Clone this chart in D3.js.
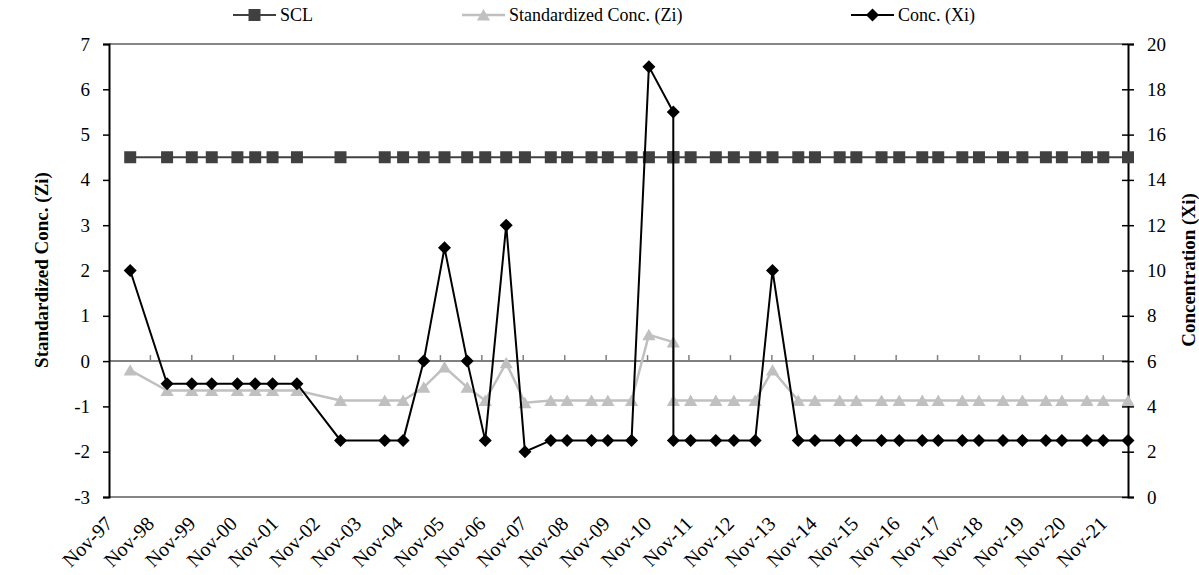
<!doctype html>
<html>
<head>
<meta charset="UTF-8">
<script src="https://d3js.org/d3.v7.min.js"></script>
<style>
body { margin: 0; background: #fff; }
</style>
</head>
<body>
<script>
// sampling dates
var dates = ["1998-05-07", "1999-03-28", "1999-11-01", "2000-04-25", "2000-12-07", "2001-05-13",
  "2001-10-13", "2002-05-16", "2003-06-04", "2004-06-28", "2004-12-07", "2005-06-07",
  "2005-12-07", "2006-06-25", "2006-12-01", "2007-06-04", "2007-11-16", "2008-07-01",
  "2008-11-22", "2009-06-25", "2009-11-16", "2010-06-13", "2010-11-13", "2011-06-16",
  "2011-06-17", "2011-11-16", "2012-06-25", "2012-12-01", "2013-06-07", "2013-11-07",
  "2014-06-22", "2014-11-16", "2015-06-22", "2015-11-16", "2016-06-25", "2016-11-28",
  "2017-06-19", "2017-11-07", "2018-06-07", "2018-11-01", "2019-06-01", "2019-11-19",
  "2020-06-13", "2020-11-01", "2021-06-10", "2021-11-01", "2022-06-07"];

// concentration Xi (right axis)
var conc = [10, 5, 5, 5, 5, 5, 5, 5, 2.5, 2.5, 2.5, 6,
  11, 6, 2.5, 12, 2, 2.5, 2.5, 2.5, 2.5, 2.5, 19, 17,
  2.5, 2.5, 2.5, 2.5, 2.5, 10, 2.5, 2.5, 2.5, 2.5, 2.5, 2.5,
  2.5, 2.5, 2.5, 2.5, 2.5, 2.5, 2.5, 2.5, 2.5, 2.5, 2.5];

// standardized concentration Zi (left axis)
var zi = [-0.2, -0.65, -0.65, -0.65, -0.65, -0.65, -0.65, -0.65, -0.87, -0.87, -0.87, -0.58,
  -0.13, -0.58, -0.87, -0.04, -0.92, -0.87, -0.87, -0.87, -0.87, -0.87, 0.58, 0.42,
  -0.87, -0.87, -0.87, -0.87, -0.87, -0.2, -0.87, -0.87, -0.87, -0.87, -0.87, -0.87,
  -0.87, -0.87, -0.87, -0.87, -0.87, -0.87, -0.87, -0.87, -0.87, -0.87, -0.87];

// SCL (left axis)
var scl = dates.map(function() { return 4.5; });

var leftTicks = [-3, -2, -1, 0, 1, 2, 3, 4, 5, 6, 7];
var rightTicks = [0, 2, 4, 6, 8, 10, 12, 14, 16, 18, 20];
var seriesNames = ["SCL", "Standardized Conc. (Zi)", "Conc. (Xi)"];

var w = 1199, h = 575;
var pLeft = 109, pRight = 1128, pTop = 44, pBottom = 497;
var serif = "'Liberation Serif', 'Times New Roman', serif";

var parse = d3.timeParse("%Y-%m-%d");
var t = dates.map(parse);

var svg = d3.select("body").append("svg")
  .attr("width", w)
  .attr("height", h)
  .attr("font-family", serif);

var x = d3.scaleTime()
  .domain([new Date(1997, 10, 1), t[t.length - 1]])
  .range([pLeft, pRight]);
var yL = d3.scaleLinear().domain([-3, 7]).range([pBottom, pTop]);
var yR = d3.scaleLinear().domain([0, 20]).range([pBottom, pTop]);

// plot area borders top and bottom
svg.append("line").attr("x1", pLeft).attr("x2", pRight).attr("y1", pTop).attr("y2", pTop)
  .attr("stroke", "#868686").attr("stroke-width", 2);
svg.append("line").attr("x1", pLeft).attr("x2", pRight).attr("y1", pBottom).attr("y2", pBottom)
  .attr("stroke", "#868686").attr("stroke-width", 2);

// category axis crossing at zero, one tick per year from Nov-97
var yearTicks = d3.timeMonth.range(new Date(1997, 10, 1), new Date(2021, 11, 1), 12);
svg.append("line").attr("x1", pLeft).attr("x2", pRight).attr("y1", yL(0)).attr("y2", yL(0))
  .attr("stroke", "#808080").attr("stroke-width", 2);
svg.selectAll(".xtick").data(yearTicks.slice(1)).enter().append("line")
  .attr("class", "xtick")
  .attr("x1", function(d) { return x(d); }).attr("x2", function(d) { return x(d); })
  .attr("y1", yL(0)).attr("y2", yL(0) - 6)
  .attr("stroke", "#808080").attr("stroke-width", 1.5);

var fmt = d3.timeFormat("%b-%y");
svg.selectAll(".x-label").data(yearTicks).enter().append("text")
  .attr("class", "x-label")
  .attr("font-size", 20)
  .attr("text-anchor", "end")
  .attr("dy", "0.35em")
  .attr("transform", function(d) { return "translate(" + x(d) + "," + 520 + ") rotate(-45)"; })
  .text(fmt);

// left axis
var gl = svg.append("g").attr("transform", "translate(" + pLeft + ",0)")
  .call(d3.axisLeft(yL).tickValues(leftTicks).tickSize(6).tickPadding(13)
    .tickFormat(function(d) { return String(d); }));
gl.attr("font-size", 19).attr("font-family", serif);
gl.select(".domain").attr("stroke", "#000").attr("stroke-width", 2);
gl.selectAll(".tick line").attr("stroke", "#000").attr("stroke-width", 1.5);

// right axis (ticks cross)
var gr = svg.append("g").attr("transform", "translate(" + pRight + ",0)")
  .call(d3.axisRight(yR).tickValues(rightTicks).tickSize(6).tickPadding(13)
    .tickFormat(function(d) { return String(d); }));
gr.attr("font-size", 19).attr("font-family", serif);
gr.select(".domain").attr("stroke", "#000").attr("stroke-width", 2);
gr.selectAll(".tick line").attr("x1", -6).attr("stroke", "#000").attr("stroke-width", 1.5);

// axis titles
svg.append("text")
  .attr("font-size", 19).attr("font-weight", "bold")
  .attr("text-anchor", "middle").attr("dy", "0.35em")
  .attr("transform", "translate(41,270) rotate(-90)")
  .text("Standardized Conc. (Zi)");
svg.append("text")
  .attr("font-size", 19).attr("font-weight", "bold")
  .attr("text-anchor", "middle").attr("dy", "0.35em")
  .attr("transform", "translate(1188,270) rotate(-90)")
  .text("Concentration (Xi)");

// marker shapes
function square(s) { return "M" + (-s) + "," + (-s) + "h" + (2 * s) + "v" + (2 * s) + "h" + (-2 * s) + "Z"; }
function triangle(s) { return "M0," + (-s) + "L" + (s * 1.1) + "," + (s * 0.9) + "L" + (-s * 1.1) + "," + (s * 0.9) + "Z"; }
function diamond(s) { return "M0," + (-s) + "L" + s + ",0L0," + s + "L" + (-s) + ",0Z"; }

var series = [
  { values: scl, scale: yL, color: "#404040", width: 2, shape: square(6) },
  { values: zi, scale: yL, color: "#c0c0c0", width: 2.5, shape: triangle(6) },
  { values: conc, scale: yR, color: "#000000", width: 2, shape: diamond(6.5) }
];

series.forEach(function(s) {
  var pts = s.values.map(function(v, i) { return [x(t[i]), s.scale(v)]; });
  svg.append("path")
    .attr("d", d3.line()(pts))
    .attr("fill", "none")
    .attr("stroke", s.color)
    .attr("stroke-width", s.width);
  svg.append("g").selectAll("path").data(pts).enter().append("path")
    .attr("transform", function(p) { return "translate(" + p[0] + "," + p[1] + ")"; })
    .attr("d", s.shape)
    .attr("fill", s.color);
});

// legend
var legendX = [233, 462, 851];
series.forEach(function(s, i) {
  var g = svg.append("g").attr("transform", "translate(" + legendX[i] + ",15)");
  g.append("line").attr("x1", 0).attr("x2", 43).attr("stroke", s.color).attr("stroke-width", s.width);
  g.append("path").attr("transform", "translate(21.5,0)").attr("d", s.shape).attr("fill", s.color);
  g.append("text").attr("font-size", 18).attr("x", 47).attr("dy", "0.35em").text(seriesNames[i]);
});
</script>
</body>
</html>
